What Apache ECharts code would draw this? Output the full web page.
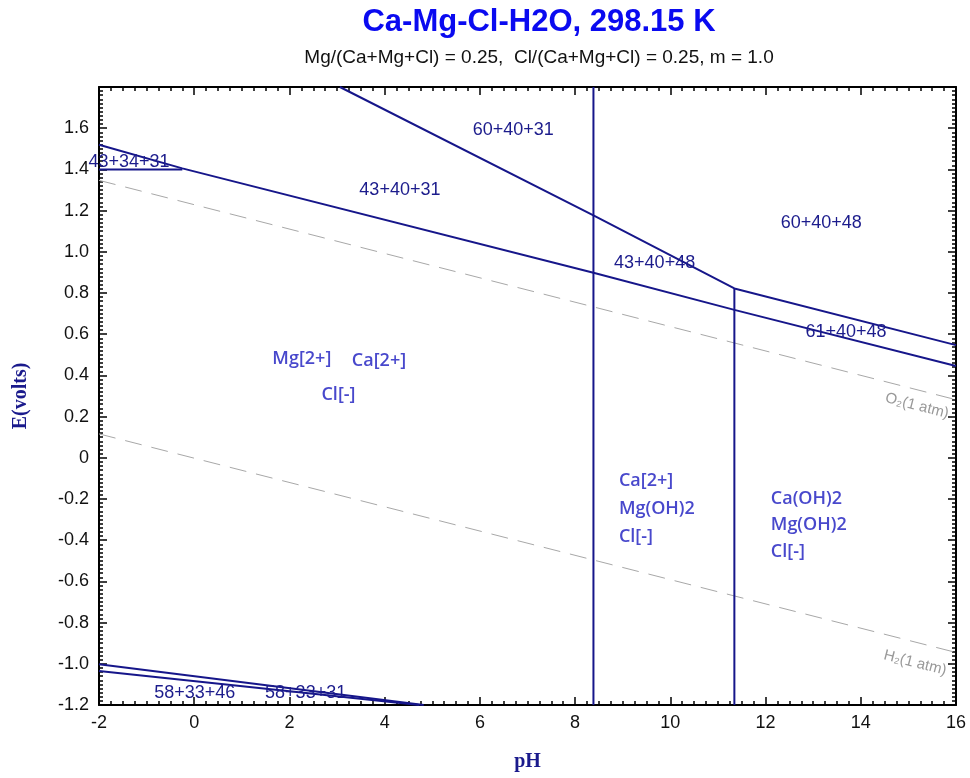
<!DOCTYPE html>
<html>
<head>
<meta charset="utf-8">
<script src="https://cdn.jsdelivr.net/npm/echarts@6/dist/echarts.min.js"></script>
<style>
  html, body { margin: 0; padding: 0; background: #fff; }
  #chart { width: 970px; height: 778px; }
</style>
</head>
<body>
<div id="chart"></div>
<script>
// Axis ranges and ticks
const xRange = [-2, 16];
const yRange = [-1.2, 1.8];
const xInterval = 2;
const yInterval = 0.2;

// Phase boundaries: [pH, E(volts)]
const boundaryUpperSteep = [[3.06, 1.80], [8.385, 1.177], [11.345, 0.822], [16, 0.547]];
const boundaryMain = [[-2, 1.52], [-0.25, 1.405], [8.385, 0.898], [11.345, 0.718], [16, 0.446]];
const boundaryFlat = [[-2, 1.40], [-0.25, 1.40]];
const boundaryVertical1 = [[8.385, -1.2], [8.385, 1.8]];
const boundaryVertical2 = [[11.345, -1.2], [11.345, 0.822]];
const boundaryLow1 = [[-2, -1.002], [4.82, -1.2]];
const boundaryLow2 = [[-2, -1.035], [4.72, -1.2]];

// Water stability limits
const waterO2 = [[-2, 1.347], [16, 0.282]];
const waterH2 = [[-2, 0.116], [16, -0.945]];

// Field labels: [text, pH, E]
const fieldCodes = [
  ['60+40+31', 6.70, 1.59],
  ['43+40+31', 4.32, 1.30],
  ['43+34+31', -1.37, 1.435],
  ['43+40+48', 9.67, 0.945],
  ['60+40+48', 13.17, 1.139],
  ['61+40+48', 13.69, 0.611],
  ['58+33+46', 0.01, -1.144],
  ['58+33+31', 2.34, -1.144]
];

// Species labels (centred): [text, pH, E]
const speciesCentered = [
  ['Mg[2+]', 2.26, 0.479],
  ['Ca[2+]', 3.88, 0.470],
  ['Cl[-]', 3.03, 0.304]
];
// Species labels (left-aligned): [text, pH, E]
const speciesLeft = [
  ['Ca[2+]', 8.92, -0.114],
  ['Mg(OH)2', 8.92, -0.250],
  ['Cl[-]', 8.92, -0.385],
  ['Ca(OH)2', 12.11, -0.197],
  ['Mg(OH)2', 12.11, -0.328],
  ['Cl[-]', 12.11, -0.459]
];

// Water line captions: [text, pH, E]
const waterCaptions = [
  ['O\u2082(1 atm)', 15.18, 0.252],
  ['H\u2082(1 atm)', 15.14, -0.996]
];

const lineColor = '#16168a';
const speciesColor = '#4848cc';

function boundary(data) {
  return {
    type: 'line', data: data, showSymbol: false, symbol: 'none',
    lineStyle: { color: lineColor, width: 2 }, silent: true, z: 3, animation: false
  };
}
function waterLine(data) {
  return {
    type: 'line', data: data, showSymbol: false, symbol: 'none',
    lineStyle: { color: '#a8a8a8', width: 1, type: [17, 10] }, silent: true, z: 2, animation: false
  };
}
function textSeries(items, labelOpts, z) {
  return {
    type: 'scatter', symbolSize: 0, silent: true, z: z || 5, animation: false,
    itemStyle: { opacity: 1 },
    data: items.map(d => ({ value: [d[1], d[2]], name: d[0] })),
    label: Object.assign({ show: true, formatter: p => p.name }, labelOpts)
  };
}

const xAxisBase = {
  type: 'value', min: xRange[0], max: xRange[1], interval: xInterval,
  axisLine: { show: true, onZero: false, lineStyle: { color: '#000', width: 2 } },
  axisTick: { show: true, inside: true, length: 8, lineStyle: { color: '#000', width: 1.5 } },
  minorTick: { show: true, splitNumber: 8, length: 4, lineStyle: { color: '#000', width: 1.5 } },
  splitLine: { show: false }, minorSplitLine: { show: false }
};
const yAxisBase = {
  type: 'value', min: yRange[0], max: yRange[1], interval: yInterval,
  axisLine: { show: true, onZero: false, lineStyle: { color: '#000', width: 2 } },
  axisTick: { show: true, inside: true, length: 8, lineStyle: { color: '#000', width: 1.5 } },
  minorTick: { show: true, splitNumber: 10, length: 4, lineStyle: { color: '#000', width: 1.5 } },
  splitLine: { show: false }, minorSplitLine: { show: false }
};

const chart = echarts.init(document.getElementById('chart'), null, { renderer: 'canvas' });
chart.setOption({
  animation: false,
  backgroundColor: '#fff',
  title: [
    {
      text: 'Ca-Mg-Cl-H2O, 298.15 K', left: 534, top: 2, textAlign: 'center',
      textStyle: { fontFamily: 'Liberation Sans', fontWeight: 'bold', fontSize: 31, color: '#0a0af0' }
    },
    {
      text: 'Mg/(Ca+Mg+Cl) = 0.25,  Cl/(Ca+Mg+Cl) = 0.25, m = 1.0', left: 534, top: 43, textAlign: 'center',
      textStyle: { fontFamily: 'Liberation Sans', fontWeight: 'normal', fontSize: 19, color: '#111' }
    }
  ],
  grid: { left: 99, right: 14, top: 87, bottom: 73, containLabel: false },
  xAxis: [
    Object.assign({}, xAxisBase, {
      position: 'bottom',
      name: 'pH', nameLocation: 'middle', nameGap: 47,
      nameTextStyle: { fontFamily: 'Liberation Serif', fontWeight: 'bold', fontSize: 20, color: '#1a1a8c' },
      axisLabel: { show: true, margin: 9, fontFamily: 'Liberation Sans', fontSize: 18, color: '#111' }
    }),
    Object.assign({}, xAxisBase, { position: 'top', axisLabel: { show: false } })
  ],
  yAxis: [
    Object.assign({}, yAxisBase, {
      position: 'left',
      name: 'E(volts)', nameLocation: 'middle', nameGap: 68, nameRotate: 90,
      nameTextStyle: { fontFamily: 'Liberation Serif', fontWeight: 'bold', fontSize: 20, color: '#1a1a8c' },
      axisLabel: {
        show: true, margin: 10, fontFamily: 'Liberation Sans', fontSize: 18, color: '#111',
        formatter: v => {
          const r = Math.round(v * 10) / 10;
          if (r > 1.65) return '';
          if (Math.abs(r) < 1e-9) return '0';
          return r.toFixed(1);
        }
      }
    }),
    Object.assign({}, yAxisBase, { position: 'right', axisLabel: { show: false } })
  ],
  series: [
    waterLine(waterO2),
    waterLine(waterH2),
    boundary(boundaryUpperSteep),
    boundary(boundaryMain),
    boundary(boundaryFlat),
    boundary(boundaryVertical1),
    boundary(boundaryVertical2),
    boundary(boundaryLow1),
    boundary(boundaryLow2),
    textSeries(fieldCodes, {
      position: 'inside', align: 'center', verticalAlign: 'middle',
      fontFamily: 'Liberation Sans', fontSize: 18, color: '#1c1c8c'
    }, 6),
    textSeries(speciesCentered, {
      position: 'inside', align: 'center', verticalAlign: 'middle',
      fontFamily: 'Open Sans', fontWeight: 600, fontSize: 18, color: speciesColor
    }, 6),
    textSeries(speciesLeft, {
      position: 'right', distance: 0, align: 'left', verticalAlign: 'middle',
      fontFamily: 'Open Sans', fontWeight: 600, fontSize: 18, color: speciesColor
    }, 6),
    textSeries(waterCaptions, {
      position: 'inside', align: 'center', verticalAlign: 'middle', rotate: -14.4,
      fontFamily: 'Liberation Sans', fontSize: 15, color: '#999'
    }, 6)
  ]
});
</script>
</body>
</html>
